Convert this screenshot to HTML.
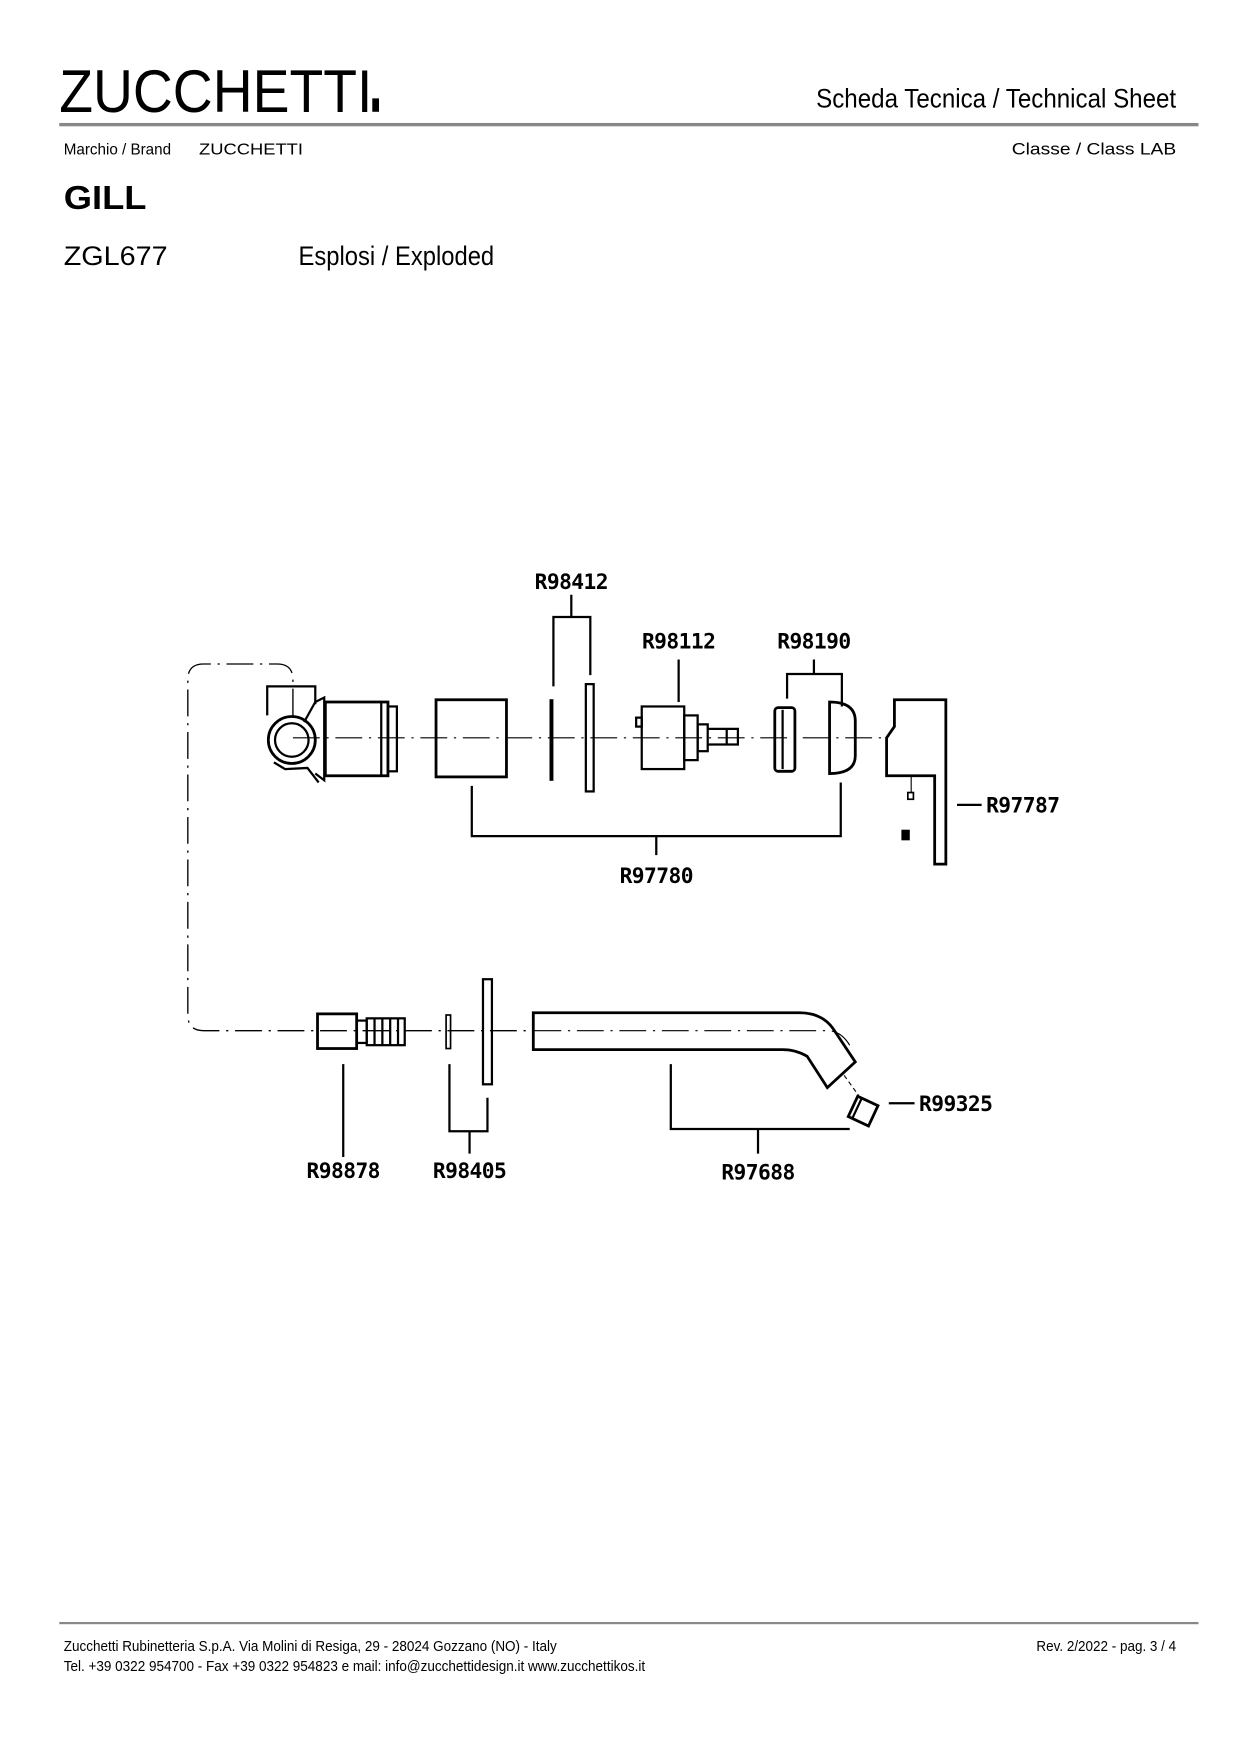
<!DOCTYPE html>
<html><head><meta charset="utf-8"><style>
html,body{margin:0;padding:0;background:#fff;}
svg{display:block}
text{font-family:"Liberation Sans",sans-serif;fill:#000}
.m{font-family:"DejaVu Sans Mono","Liberation Mono",monospace;font-size:19px;font-weight:600;letter-spacing:-0.5px}
</style></head><body>
<svg width="1241" height="1755" viewBox="0 0 1110 1570" preserveAspectRatio="none" xmlns="http://www.w3.org/2000/svg">
<rect width="1110" height="1570" fill="#fff"/>
<!-- header -->
<text x="53" y="100" font-size="54" textLength="280" lengthAdjust="spacingAndGlyphs">ZUCCHETTI</text>
<rect x="333" y="88" width="6" height="12" fill="#000"/>
<text x="730" y="96" font-size="24" textLength="322" lengthAdjust="spacingAndGlyphs" fill="#222">Scheda Tecnica / Technical Sheet</text>
<rect x="53" y="110" width="1019" height="3" fill="#888"/>
<text x="57" y="138" font-size="14" textLength="96" lengthAdjust="spacingAndGlyphs">Marchio / Brand</text>
<text x="178" y="138" font-size="14" textLength="93" lengthAdjust="spacingAndGlyphs">ZUCCHETTI</text>
<text x="905" y="138" font-size="15" textLength="147" lengthAdjust="spacingAndGlyphs">Classe / Class  LAB</text>
<text x="57" y="187" font-size="30" font-weight="bold" textLength="74" lengthAdjust="spacingAndGlyphs">GILL</text>
<text x="57" y="237" font-size="24" textLength="93" lengthAdjust="spacingAndGlyphs">ZGL677</text>
<text x="267" y="237" font-size="24" textLength="175" lengthAdjust="spacingAndGlyphs">Esplosi / Exploded</text>
<!-- footer -->
<rect x="53" y="1451" width="1019" height="2" fill="#888"/>
<text x="57" y="1477" font-size="13" textLength="441" lengthAdjust="spacingAndGlyphs">Zucchetti Rubinetteria S.p.A. Via Molini di Resiga, 29 - 28024 Gozzano (NO) - Italy</text>
<text x="57" y="1495" font-size="13" textLength="520" lengthAdjust="spacingAndGlyphs">Tel. +39 0322 954700 - Fax +39 0322 954823 e mail: info@zucchettidesign.it www.zucchettikos.it</text>
<text x="927" y="1477" font-size="13" textLength="125" lengthAdjust="spacingAndGlyphs">Rev. 2/2022 - pag. 3 / 4</text>

<g fill="none" stroke="#000" stroke-width="2">
<!-- axis lines -->
<path d="M262 660 H790" stroke-dasharray="24 6 2 6" stroke-width="1"/>
<path d="M262 640 V608 Q262 594 248 594 H182 Q168 594 168 608 V908 Q168 922 182 922 H478" stroke-dasharray="24 6 2 6" stroke-width="1.2"/>
<path d="M478 922 H740 Q752 922 760 935" stroke-dasharray="24 6 2 6" stroke-width="1"/>
<!-- valve body -->
<path d="M239 640 V614 H282 V630"/>
<circle cx="261" cy="662" r="21" stroke-width="2.5"/>
<circle cx="261" cy="662" r="15"/>
<path d="M245 682 L255 688 L275 687 L285 700 M282 628 L290 624 V698 L282 692"/>
<path d="M272 646 L282 628"/>
<rect x="291" y="628" width="56" height="66" stroke-width="2.5"/>
<rect x="347" y="632" width="8" height="58" stroke-width="2"/>
<line x1="341" y1="628" x2="341" y2="694"/>
<!-- sleeve -->
<rect x="390" y="626" width="63" height="69" stroke-width="2.5"/>
<!-- oring / plate -->
<rect x="492" y="626" width="2.5" height="72" fill="#000" stroke-width="1"/>
<rect x="524" y="612" width="7" height="96" stroke-width="2"/>
<!-- R98412 bracket -->
<path d="M495 614 V552 H528 V604 M511 552 V532"/>
<!-- cartridge -->
<rect x="574" y="632" width="38" height="56" stroke-width="2"/>
<rect x="569" y="642" width="5" height="8"/>
<rect x="612" y="640" width="12" height="40"/>
<rect x="624" y="648" width="9" height="24"/>
<path d="M633 652 H660 V666 H633 M650 652 V666"/>
<path d="M607 628 V590"/>
<!-- R98190 -->
<rect x="693" y="633" width="18" height="57" rx="3" stroke-width="2.5"/>
<line x1="700" y1="635" x2="700" y2="688"/>
<path d="M742 628 Q765 628 765 645 V676 Q765 692 742 692 Z" stroke-width="2.5"/>
<path d="M704 625 V603 H753 V632 M728 603 V590"/>
<!-- R97780 -->
<path d="M422 703 V748 H752 V700 M587 748 V765" stroke-width="2"/>
<!-- handle -->
<path d="M800 626 H846 V773 H836 V694 H793 V660 L800 650 Z" stroke-width="2.5"/>
<rect x="812" y="709" width="5" height="6" stroke-width="1.5"/>
<rect x="807" y="743" width="6" height="8" stroke-width="1.5" fill="#000"/>
<path d="M815 694 V709" stroke-width="1"/>
<path d="M856 720 H878" stroke-width="2"/>
<!-- bottom: R98878 -->
<rect x="284" y="907" width="35" height="31" stroke-width="2.5"/>
<rect x="319" y="913" width="9" height="20"/>
<rect x="328" y="911" width="34" height="24" stroke-width="2"/>
<path d="M335 911 V935 M342 911 V935 M349 911 V935 M356 911 V935"/>
<path d="M307 952 V1035"/>
<!-- R98405 -->
<rect x="399" y="908" width="4" height="30" stroke-width="1.5"/>
<rect x="432" y="876" width="8" height="94" stroke-width="2"/>
<path d="M402 952 V1012 H436 V982 M420 1012 V1032"/>
<!-- spout -->
<path d="M477 906 H715 Q735 906 745 920 L765 950 L740 973 L722 945 Q712 939 700 939 H477 Z" stroke-width="2.5"/>
<path d="M755 962 L768 980" stroke-width="1" stroke-dasharray="4 3"/>
<!-- aerator -->
<g transform="rotate(25 772 994)">
<rect x="762" y="984" width="20" height="20" stroke-width="2.5"/>
<line x1="766" y1="984" x2="766" y2="1004"/>
</g>
<path d="M795 987 H818" stroke-width="2"/>
<path d="M600 952 V1010 H760 M678 1010 V1032" stroke-width="2"/>
</g>
<!-- labels -->
<text class="m" x="511" y="527" text-anchor="middle">R98412</text>
<text class="m" x="607" y="580" text-anchor="middle">R98112</text>
<text class="m" x="728" y="580" text-anchor="middle">R98190</text>
<text class="m" x="587" y="790" text-anchor="middle">R97780</text>
<text class="m" x="882" y="727">R97787</text>
<text class="m" x="307" y="1054" text-anchor="middle">R98878</text>
<text class="m" x="420" y="1054" text-anchor="middle">R98405</text>
<text class="m" x="678" y="1055" text-anchor="middle">R97688</text>
<text class="m" x="822" y="994">R99325</text>
</svg>
</body></html>
